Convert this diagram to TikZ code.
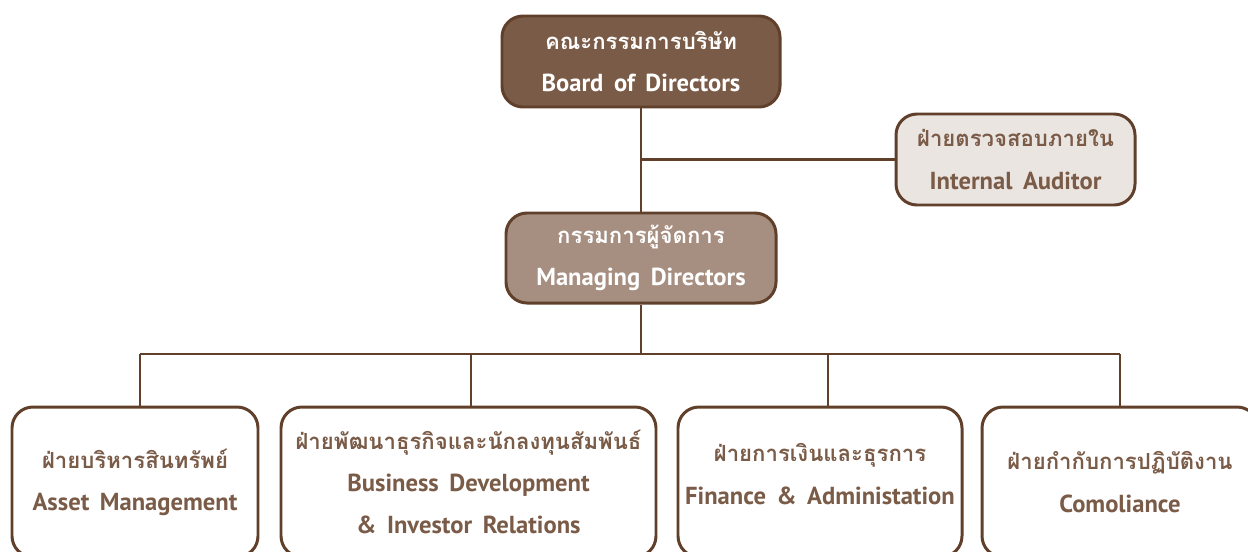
\documentclass[tikz,border=0pt]{standalone}
\usepackage{fontspec}
\setmainfont{PT Sans}[WordSpace=1.7]
\newfontfamily\thaifont[Script=Thai, Scale=0.9]{Loma}
\usetikzlibrary{positioning, calc}
\definecolor{brownline}{HTML}{603F2B}
\definecolor{boardfill}{HTML}{7A5B47}
\definecolor{mdfill}{HTML}{A68E80}
\definecolor{auditfill}{HTML}{EBE5E1}
\definecolor{browntext}{HTML}{7A5B47}

\begin{document}
\begin{tikzpicture}[
    box/.style={draw=brownline, line width=1.7pt, rounded corners=0.42cm, align=center,
      inner sep=0pt, font=\fontsize{14}{24}\selectfont\bfseries},
    unit/.style={box, fill=white, text=browntext, minimum height=3.0cm},
    link/.style={draw=brownline, line width=1.6pt}]
      \useasboundingbox (0,0) rectangle (24.96,-11.02);
      \clip (0,0) rectangle (24.96,-11.02);

      \node[box, fill=boardfill, text=white, minimum width=5.56cm, minimum height=1.82cm]
        (board) at (12.82,-1.23) {{\thaifont คณะกรรมการบริษัท}\\Board of Directors};
      \node[box, fill=auditfill, text=browntext, minimum width=4.78cm, minimum height=1.82cm]
        (auditor) at (20.31,-3.19) {{\thaifont ฝ่ายตรวจสอบภายใน}\\Internal Auditor};
      \node[box, fill=mdfill, text=white, minimum width=5.4cm, minimum height=1.8cm]
        (md) at (12.82,-5.16) {{\thaifont กรรมการผู้จัดการ}\\Managing Directors};

      \node[unit, minimum width=4.92cm] (asset) at (2.70,-9.64)
        {{\thaifont ฝ่ายบริหารสินทรัพย์}\\Asset Management};
      \node[unit, minimum width=7.5cm] (bizdev) at (9.37,-9.64)
        {{\thaifont ฝ่ายพัฒนาธุรกิจและนักลงทุนสัมพันธ์}\\Business Development\\\& Investor Relations};
      \node[unit, minimum width=5.68cm] (finance) at (16.40,-9.64)
        {{\thaifont ฝ่ายการเงินและธุรการ}\\Finance \& Administation\\[-0.52cm]};
      \node[unit, minimum width=5.52cm] (comply) at (22.40,-9.64)
        {{\thaifont ฝ่ายกำกับการปฏิบัติงาน}\\Comoliance};

      % upper links
      \draw[link] (board) -- (md);
      \coordinate (tee) at (board.south |- auditor.west);
      \draw[link] (tee) -- (auditor);

      % bus to the units
      \coordinate (busL) at (2.80,-7.08);
      \coordinate (busR) at (22.40,-7.08);
      \draw[link] (md) -- (md |- busL);
      \draw[link] (busL) -- (busR);
      \foreach \b/\x in {asset/2.80, bizdev/9.42, finance/16.56, comply/22.40} {
        \coordinate (drop) at (\x,-7.08);
        \draw[link] (drop) -- (drop |- \b.north);
      }
    \end{tikzpicture}
\end{document}
